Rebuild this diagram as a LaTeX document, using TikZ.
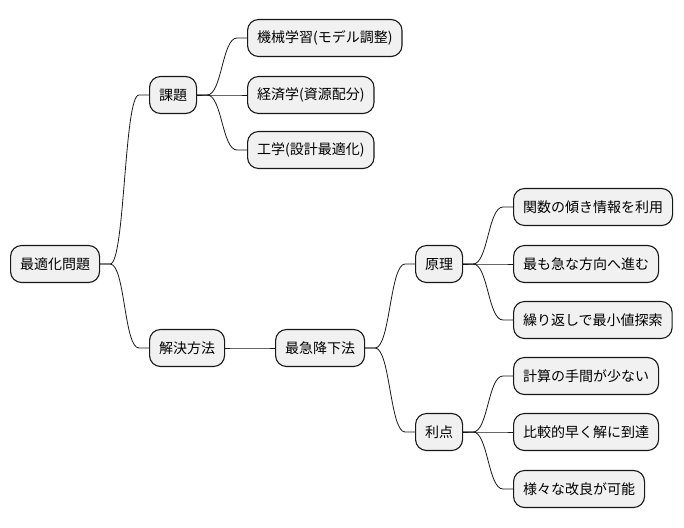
\documentclass[tikz,border=0pt]{standalone}
\usepackage{fontspec}
\newfontfamily\jpfont{Noto Sans CJK JP}
\begin{document}
\begin{tikzpicture}[x=1pt,y=-1pt]
  % colors
  \definecolor{kFill}{rgb}{0.945,0.945,0.945}
  \definecolor{kLine}{rgb}{0.094,0.094,0.094}
  \tikzset{
    topic/.style={draw=kLine,fill=kFill,line width=1.1pt,rounded corners=11pt,
      minimum height=37pt,inner xsep=9.5pt,anchor=west,
      font=\jpfont\fontsize{14}{16}\selectfont},
    link/.style={draw=kLine,line width=0.8pt}
  }
  \useasboundingbox (0,0) rectangle (684,527);

  % tree
  \node[topic] (root) at (10,264) {最適化問題};
  \node[topic] (kadai) at (149,95) {課題};
  \node[topic] (kaiketsu) at (149,348) {解決方法};
  \node[topic] (saikyu) at (275,348) {最急降下法};
  \node[topic] (genri) at (415,264) {原理};
  \node[topic] (riten) at (415,432) {利点};

  % leaves
  \foreach \n/\y/\t in {kikai/38/機械学習(モデル調整),keizai/95/経済学(資源配分),
      kogaku/150/工学(設計最適化)} {
    \node[topic] (\n) at (247,\y) {\t};
  };
  \foreach \n/\y/\t in {kansu/207/関数の傾き情報を利用,kyu/264/最も急な方向へ進む,
      kurikaeshi/320/繰り返しで最小値探索,keisan/376/計算の手間が少ない,
      hayaku/432/比較的早く解に到達,kairyo/489/様々な改良が可能} {
    \node[topic] (\n) at (513,\y) {\t};
  };

  % links
  \foreach \a/\b in {root/kadai,root/kaiketsu,kadai/kikai,kadai/keizai,kadai/kogaku,
      kaiketsu/saikyu,saikyu/genri,saikyu/riten,genri/kansu,genri/kyu,
      genri/kurikaeshi,riten/keisan,riten/hayaku,riten/kairyo} {
    \draw[link] (\a.east) -- ++(10,0) .. controls +(15,0) and +(-15,0)
      .. ([xshift=-10]\b.west) -- (\b.west);
  };
\end{tikzpicture}
\end{document}
